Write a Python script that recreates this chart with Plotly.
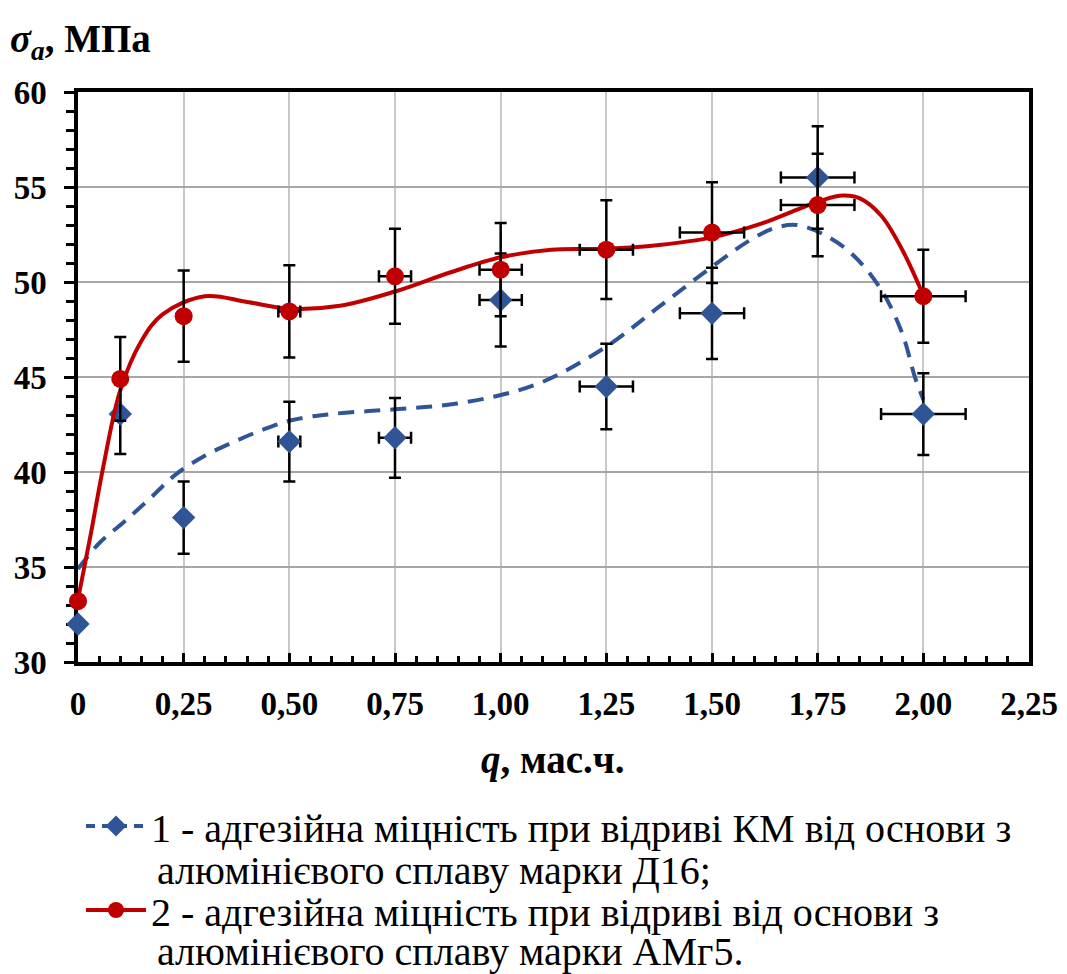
import plotly.graph_objects as go

# ---- data ----
q_points = [0, 0.1, 0.25, 0.5, 0.75, 1.0, 1.25, 1.5, 1.75, 2.0]

s1_values = [32.0, 43.05, 37.6, 41.6, 41.8, 49.05, 44.5, 48.35, 55.5, 43.05]
s1_err_y = [0, 2.1, 1.9, 2.1, 2.1, 2.45, 2.25, 2.4, 2.7, 2.15]
s1_err_x = [0, 0, 0, 0.026, 0.038, 0.05, 0.063, 0.076, 0.087, 0.1]

s2_values = [33.2, 44.9, 48.2, 48.45, 50.3, 50.65, 51.7, 52.6, 54.05, 49.25]
s2_err_y = [0, 2.2, 2.4, 2.43, 2.5, 2.45, 2.6, 2.65, 2.7, 2.45]
s2_err_x = [0, 0, 0, 0.026, 0.038, 0.05, 0.063, 0.076, 0.087, 0.1]

# trend curves
trend1_q = [0, 0.05, 0.11, 0.17, 0.23, 0.3, 0.37, 0.44, 0.51, 0.6, 0.75, 0.88, 1.0,
            1.1, 1.25, 1.375, 1.5, 1.59, 1.65, 1.7, 1.76, 1.83, 1.9, 1.95, 1.98, 2.0]
trend1_v = [34.9, 36.25, 37.4, 38.6, 39.85, 40.85, 41.6, 42.25, 42.75, 43.05, 43.3,
            43.55, 44.05, 44.75, 46.6, 48.7, 50.8, 52.2, 52.85, 53.0, 52.55, 51.5,
            49.6, 47.3, 45.0, 43.8]

trend2_q = [0, 0.03, 0.06, 0.1, 0.15, 0.2, 0.3, 0.4, 0.5, 0.62, 0.75, 0.88, 1.0,
            1.12, 1.25, 1.375, 1.5, 1.62, 1.7, 1.76, 1.81, 1.85, 1.9, 1.95, 2.0]
trend2_v = [33.3, 36.7, 40.3, 44.3, 46.9, 48.3, 49.25, 48.95, 48.6, 48.75, 49.5,
            50.5, 51.3, 51.7, 51.75, 51.95, 52.35, 53.1, 53.8, 54.3, 54.55, 54.4,
            53.5, 51.7, 49.3]

x_tickvals = [0, 0.25, 0.5, 0.75, 1.0, 1.25, 1.5, 1.75, 2.0, 2.25]
x_ticktext = ["0", "0,25", "0,50", "0,75", "1,00", "1,25", "1,50", "1,75", "2,00", "2,25"]

legend1_line1 = "1 - адгезійна міцність при відриві КМ від основи з"
legend1_line2 = "алюмінієвого сплаву марки Д16;"
legend2_line1 = "2 - адгезійна міцність при відриві від основи з"
legend2_line2 = "алюмінієвого сплаву марки АМг5."

BLUE = "#2F5597"
RED = "#C00000"
FONT = "Liberation Serif"

# plot-area geometry helpers (pixels -> paper)
L, R, T, B = 78, 38, 92, 312
W, H = 1067, 974
PW, PH = W - L - R, H - T - B


def px_x(px):
    return (px - L) / PW


def px_y(py):
    return (H - B - py) / PH


fig = go.Figure()

# series 1
fig.add_trace(go.Scatter(x=trend1_q, y=trend1_v, mode="lines", line_shape="spline",
                         line=dict(color=BLUE, width=4, dash="16px,10px", smoothing=1.0),
                         showlegend=False, hoverinfo="skip", cliponaxis=False))
err_style = dict(type="data", color="black", thickness=2.5, width=6, visible=True)
fig.add_trace(go.Scatter(x=q_points, y=s1_values, mode="markers",
                         marker=dict(symbol="diamond", size=18, color=BLUE),
                         error_y=dict(array=s1_err_y, **err_style),
                         error_x=dict(array=s1_err_x, **err_style),
                         showlegend=False, cliponaxis=False))
# series 2
fig.add_trace(go.Scatter(x=trend2_q, y=trend2_v, mode="lines", line_shape="spline",
                         line=dict(color=RED, width=4, smoothing=1.0),
                         showlegend=False, hoverinfo="skip", cliponaxis=False))
fig.add_trace(go.Scatter(x=q_points, y=s2_values, mode="markers",
                         marker=dict(symbol="circle", size=18, color=RED),
                         error_y=dict(array=s2_err_y, **err_style),
                         error_x=dict(array=s2_err_x, **err_style),
                         showlegend=False, cliponaxis=False))

# legend entries
fig.add_trace(go.Scatter(x=[None], y=[None], mode="lines+markers", name=legend1_line1,
                         line=dict(color=BLUE, width=4, dash="9px,7px"),
                         marker=dict(symbol="diamond", size=16, color=BLUE),
                         legend="legend"))
fig.add_trace(go.Scatter(x=[None], y=[None], mode="lines+markers", name=legend2_line1,
                         line=dict(color=RED, width=4),
                         marker=dict(symbol="circle", size=16, color=RED),
                         legend="legend2"))

tickfont = dict(family=FONT, size=33, color="black", weight="bold")

fig.update_xaxes(range=[0, 2.25], tickmode="array", tickvals=x_tickvals, ticktext=x_ticktext,
                 tickfont=tickfont, ticks="inside", ticklen=9, tickwidth=3, tickcolor="black",
                 ticklabelstandoff=10,
                 minor=dict(ticks="inside", ticklen=6, tickwidth=3, tickcolor="black",
                            tick0=0, dtick=0.05, showgrid=False),
                 showgrid=True, gridcolor="#C8C8C8", gridwidth=2,
                 showline=True, linecolor="black", linewidth=3.5, mirror=True,
                 zeroline=False, layer="below traces")
fig.update_yaxes(range=[30, 60], tick0=30, dtick=5,
                 tickfont=tickfont, ticks="outside", ticklen=10, tickwidth=3, tickcolor="black",
                 ticklabelstandoff=11,
                 minor=dict(ticks="outside", ticklen=8, tickwidth=3, tickcolor="black",
                            tick0=30, dtick=1, showgrid=False),
                 showgrid=True, gridcolor="#A6A6A6", gridwidth=2,
                 showline=True, linecolor="black", linewidth=3.5, mirror=True,
                 zeroline=False, layer="below traces")

fig.add_annotation(xref="paper", yref="paper", x=px_x(8), y=px_y(42),
                   xanchor="left", yanchor="middle", showarrow=False,
                   text="<b><i>σ</i><sub><i>a</i></sub>, МПа</b>",
                   font=dict(family=FONT, size=39, color="black"))
fig.add_annotation(xref="paper", yref="paper", x=px_x(553), y=px_y(760),
                   xanchor="center", yanchor="middle", showarrow=False,
                   text="<b><i>q</i>, мас.ч.</b>",
                   font=dict(family=FONT, size=39, color="black"))

LEG_SIZE = 40
legfont = dict(family=FONT, size=LEG_SIZE, color="black")
fig.add_annotation(xref="paper", yref="paper", x=px_x(155), y=px_y(870),
                   xanchor="left", yanchor="middle", showarrow=False,
                   text=legend1_line2, font=legfont)
fig.add_annotation(xref="paper", yref="paper", x=px_x(155), y=px_y(951),
                   xanchor="left", yanchor="middle", showarrow=False,
                   text=legend2_line2, font=legfont)

leg_common = dict(xanchor="left", yanchor="middle", font=legfont,
                  bgcolor="rgba(0,0,0,0)", borderwidth=0, itemwidth=60)
fig.update_layout(
    width=W, height=H,
    font=dict(family=FONT, color="black"),
    margin=dict(l=L, r=R, t=T, b=B, autoexpand=False),
    paper_bgcolor="white", plot_bgcolor="white",
    legend=dict(x=px_x(81), y=px_y(826), **leg_common),
    legend2=dict(x=px_x(81), y=px_y(910), **leg_common),
    showlegend=True,
)

fig.write_html("out.html")
